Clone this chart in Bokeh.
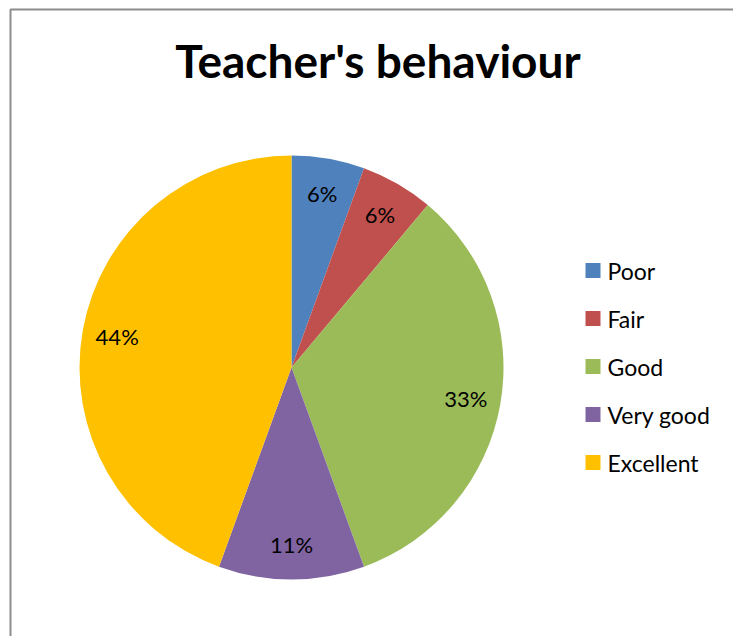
import math
from bokeh.plotting import figure
from bokeh.models import Range1d, ColumnDataSource
from bokeh.core.properties import value
from bokeh.embed import file_html
from bokeh.resources import INLINE

title = "Teacher's behaviour"
categories = ["Poor", "Fair", "Good", "Very good", "Excellent"]
counts = [1, 1, 6, 2, 8]
colors = ["#4F81BD", "#C0504D", "#9BBB59", "#8064A2", "#FFC000"]

W, H = 733, 636
FONT = "Lato"

p = figure(width=W, height=H, output_backend="svg", toolbar_location=None,
           x_range=Range1d(0, W), y_range=Range1d(0, H), min_border=0)
p.axis.visible = False
p.grid.visible = False
p.outline_line_color = None
p.background_fill_color = "white"
p.border_fill_color = "white"

# chart frame (left and top edges visible in reference)
p.line([10, 10, W + 5], [-5, 627, 627], line_color="#8c8c8c", line_width=2)

# title
p.text(x=[377.5], y=[576], text=[title], text_align="center", text_baseline="middle",
       text_font=value(FONT), text_font_style="bold", text_font_size="46px", text_color="black")

# pie
cx, cy, R = 291, 269, 212
total = sum(counts)
starts, ends, mids, pcts = [], [], [], []
cum = 0
for c in counts:
    a0 = math.pi / 2 - 2 * math.pi * cum / total
    cum += c
    a1 = math.pi / 2 - 2 * math.pi * cum / total
    starts.append(a0)
    ends.append(a1)
    mids.append((a0 + a1) / 2)
    pcts.append(f"{round(100 * c / total)}%")

src = ColumnDataSource(dict(start=starts, end=ends, color=colors, cat=categories))
p.wedge(x=cx, y=cy, radius=R, start_angle="start", end_angle="end", direction="clock",
        fill_color="color", line_color=None, source=src)

LR = 177
lx = [cx + LR * math.cos(m) for m in mids]
ly = [cy + LR * math.sin(m) for m in mids]
p.text(x=lx, y=ly, text=pcts, text_align="center", text_baseline="middle",
       text_font=value(FONT), text_font_size="22px", text_color="black")

# legend
n = len(categories)
gy = [366 - 48 * i for i in range(n)]
p.rect(x=[592.5] * n, y=gy, width=15, height=15, fill_color=colors, line_color=None)
p.text(x=[607] * n, y=gy, text=categories, text_align="left", text_baseline="middle",
       text_font=value(FONT), text_font_size="23px", text_color="black")

open("out.html", "w").write(file_html(p, INLINE))
